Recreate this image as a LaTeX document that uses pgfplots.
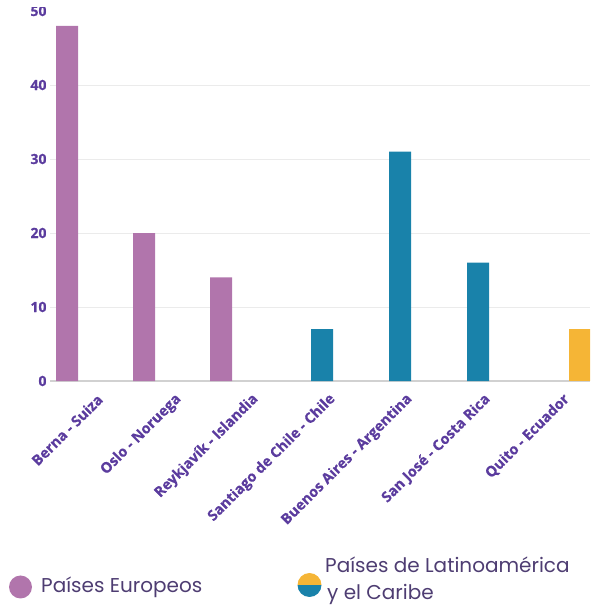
\documentclass[border=0pt]{standalone}
\usepackage{pgfplots}
\pgfplotsset{compat=1.18}
\usepackage{fontspec}
\setmainfont{Open Sans}
\newfontfamily\labfont{Open Sans}[UprightFeatures={FakeBold=0.5}, BoldFeatures={FakeBold=0.5}]
\newfontfamily\legfont{Poppins}
\definecolor{eur}{HTML}{B175AC}
\definecolor{lat}{HTML}{1982AA}
\definecolor{yel}{HTML}{F5B536}
\definecolor{lab}{HTML}{5B3C9E}
\definecolor{legtxt}{HTML}{4E3D72}
\begin{document}
\begin{tikzpicture}[x=1pt,y=1pt]
\path[use as bounding box, clip] (0,0) rectangle (590,606);
\begin{axis}[at={(50pt,225pt)}, anchor=south west, scale only axis,
 width=540pt, height=370pt,
 xmin=50, xmax=590, ymin=0, ymax=50,
 ytick={0,10,20,30,40,50},
 xtick={89,168,245,322,399,477,556},
 xticklabels={Berna - Suiza, Oslo - Noruega, Reykjavík - Islandia, Santiago de Chile - Chile, Buenos Aires - Argentina, San José - Costa Rica, Quito - Ecuador},
 xticklabel style={rotate=45, anchor=east, yshift=-19pt, font=\labfont\bfseries\fontsize{14.5}{16}\selectfont, text=lab},
 yticklabel style={font=\labfont\bfseries\fontsize{14}{16}\selectfont, text=lab},
 /pgf/number format/assume math mode=true,
 axis line style={draw=none}, major tick length=0pt,
 ymajorgrids, grid style={draw=black!8, line width=1pt},
 extra y ticks={0}, extra y tick labels={}, extra y tick style={grid style={draw=black!18, line width=1.2pt}},
 ybar, bar width=22pt, bar shift=0pt]
\addplot[fill=eur, draw=none] coordinates {(67,48) (144,20) (221,14)};
\addplot[fill=lat, draw=none] coordinates {(322,7) (400,31) (478,16)};
\addplot[fill=yel, draw=none] coordinates {(580,7)};
\end{axis}
\fill[white] (0,599) rectangle (50,606);
\fill[white] (50,592) rectangle (590,606);
% legend
\fill[eur] (20.5,19) circle (11.5);
\node[anchor=base west, inner sep=0, text=legtxt, font=\legfont\fontsize{20}{24}\selectfont] at (41,13) {Países Europeos};
\begin{scope}
\clip (309.5,21) circle (12);
\fill[yel] (297,21) rectangle (322,34);
\fill[lat] (297,9) rectangle (322,21);
\end{scope}
\node[anchor=base west, inner sep=0, text=legtxt, font=\legfont\fontsize{20}{24}\selectfont] at (325,34) {Países de Latinoamérica};
\node[anchor=base west, inner sep=0, text=legtxt, font=\legfont\fontsize{20}{24}\selectfont] at (327,6) {y el Caribe};
\end{tikzpicture}
\end{document}
